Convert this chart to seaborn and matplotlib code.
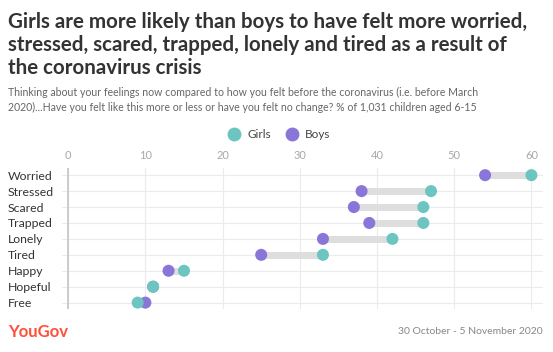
import matplotlib
matplotlib.use("Agg")
import matplotlib.pyplot as plt
from matplotlib.lines import Line2D
import seaborn as sns
import pandas as pd

categories = ["Worried", "Stressed", "Scared", "Trapped", "Lonely", "Tired", "Happy", "Hopeful", "Free"]
girls = [60, 47, 46, 46, 42, 33, 15, 11, 9]
boys = [54, 38, 37, 39, 33, 25, 13, 11, 10]
xticks = [0, 10, 20, 30, 40, 50, 60]

title = ("Girls are more likely than boys to have felt more worried,\n"
         "stressed, scared, trapped, lonely and tired as a result of\n"
         "the coronavirus crisis")
subtitle = ("Thinking about your feelings now compared to how you felt before the coronavirus (i.e. before March\n"
            "2020)...Have you felt like this more or less or have you felt no change? % of 1,031 children aged 6-15")

GIRL_C = "#6cc5c0"
BOY_C = "#8a76d8"

sns.set_theme(style="white")
plt.rcParams["font.family"] = ["Lato", "DejaVu Sans"]

W, H = 553, 352
fig = plt.figure(figsize=(W / 100, H / 100), dpi=100)
ax = fig.add_axes([62 / W, 1 - 309 / H, (543 - 62) / W, (309 - 168) / H])

pos = list(range(len(categories)))
df_b = pd.DataFrame({"value": boys, "pos": pos})
df_g = pd.DataFrame({"value": girls, "pos": pos})

# connectors
ax.hlines(pos, boys, girls, color="#dedede", lw=5, zorder=2)

sns.scatterplot(data=df_b, x="value", y="pos", color=BOY_C, s=75,
                edgecolor="none", ax=ax, zorder=3)
sns.scatterplot(data=df_g, x="value", y="pos", color=GIRL_C, s=75,
                edgecolor="none", ax=ax, zorder=4)

ax.set_xlim(-0.8, 61.5)
ax.set_ylim(len(categories) - 0.6, -0.45)
ax.set_xticks(xticks)
ax.set_yticks(pos)
ax.set_yticklabels(categories)
ax.xaxis.tick_top()
ax.tick_params(axis="x", length=0, pad=5, labelsize=8, labelcolor="#a8a8a8")
ax.tick_params(axis="y", length=0, pad=39, labelsize=8.8, labelcolor="#333333")
for lbl in ax.get_yticklabels():
    lbl.set_horizontalalignment("left")
ax.set_xlabel("")
ax.set_ylabel("")
for s in ax.spines.values():
    s.set_visible(False)
ax.grid(True, color="#ebebeb", lw=0.8)
ax.set_axisbelow(True)
ax.axvline(0, color="#c4c4c4", lw=1.2, zorder=1)

fig.text(8 / W, 1 - 12 / H, title, ha="left", va="top", fontsize=14.8,
         fontweight="bold", color="#333333", linespacing=1.2)
fig.text(8 / W, 1 - 87 / H, subtitle, ha="left", va="top", fontsize=7.6,
         color="#666666", linespacing=1.45)

handles = [Line2D([], [], marker="o", ls="none", markersize=9, color=GIRL_C, label="Girls"),
           Line2D([], [], marker="o", ls="none", markersize=9, color=BOY_C, label="Boys")]
fig.legend(handles=handles, loc="center", bbox_to_anchor=(0.5, 1 - 135 / H), ncol=2,
           frameon=False, fontsize=8.5, handletextpad=0.1, columnspacing=0.8,
           labelcolor="#444444")

fig.text(8 / W, 1 - 332 / H, "YouGov", ha="left", va="center", fontsize=12,
         fontweight="bold", color="#ff4f3a")
fig.text(543 / W, 1 - 332 / H, "30 October - 5 November 2020", ha="right", va="center",
         fontsize=7.5, color="#888888")

fig.savefig("out.png", dpi=100)
